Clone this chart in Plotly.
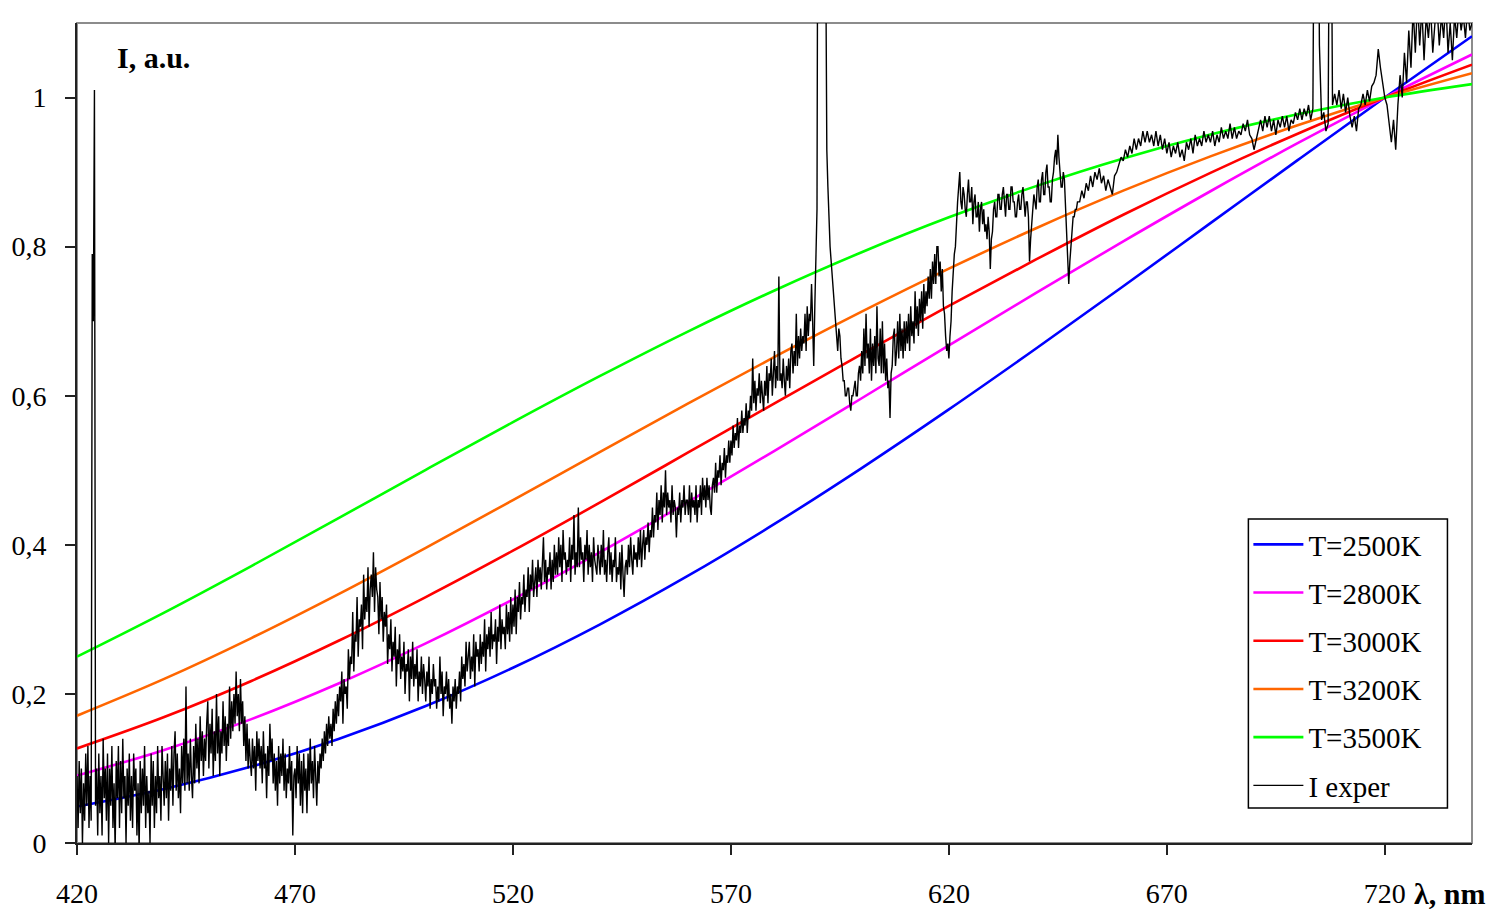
import plotly.graph_objects as go

# Wavelength grid of the blackbody curves, nm
wl_planck = [420, 440, 460, 480, 500, 520, 540, 560, 580, 600,
             620, 640, 660, 680, 700, 720, 740]

# Blackbody spectra normalised to 1 at 720 nm
T2500 = [0.0490, 0.0725, 0.1025, 0.1395, 0.1837, 0.2351, 0.2934, 0.3579, 0.4280,
         0.5029, 0.5816, 0.6633, 0.7469, 0.8315, 0.9161, 1.0000, 1.0823]
T2800 = [0.0904, 0.1249, 0.1662, 0.2140, 0.2677, 0.3267, 0.3901, 0.4569, 0.5261,
         0.5966, 0.6676, 0.7380, 0.8071, 0.8743, 0.9388, 1.0000, 1.0577]
T3000 = [0.1269, 0.1690, 0.2174, 0.2713, 0.3299, 0.3921, 0.4569, 0.5232, 0.5898,
         0.6558, 0.7204, 0.7828, 0.8428, 0.8990, 0.9515, 1.0000, 1.0442]
T3200 = [0.1708, 0.2201, 0.2749, 0.3339, 0.3960, 0.4600, 0.5247, 0.5890, 0.6520,
         0.7127, 0.7704, 0.8247, 0.8751, 0.9211, 0.9628, 1.0000, 1.0327]
T3500 = [0.2500, 0.3091, 0.3715, 0.4358, 0.5006, 0.5645, 0.6265, 0.6857, 0.7412,
         0.7925, 0.8393, 0.8812, 0.9183, 0.9503, 0.9775, 1.0000, 1.0180]

# Measured spectrum, part 1: 420.00 ... 649.75 nm every 0.25 nm (one row = 10 nm)
fine_start = 420.0
fine_step = 0.25
I_fine = [
    0.09, 0.02, 0.11, 0.04, 0.10, 0.00, 0.08, 0.03, 0.12, 0.05,
    0.13, 0.02, 0.09, 0.03, 0.79, 0.70, 1.01, 0.05, 0.10, 0.01,
    0.12, 0.04, 0.09, 0.01, 0.14, 0.06, 0.10, 0.03, 0.12, 0.00,
    0.10, 0.05, 0.13, 0.02, 0.08, -0.01, 0.11, 0.06, 0.13, 0.02,
    # 430
    0.11, 0.04, 0.14, 0.06, 0.09, 0.00, 0.10, 0.05, 0.12, 0.03,
    0.09, 0.02, 0.12, 0.07, 0.10, 0.01, 0.08, -0.01, 0.11, 0.04,
    0.10, 0.05, 0.13, 0.02, 0.09, 0.04, 0.07, 0.00, 0.12, 0.05,
    0.11, 0.02, 0.09, 0.04, 0.13, 0.06, 0.09, 0.03, 0.13, 0.07,
    # 440
    0.05, 0.11, 0.06, 0.12, 0.03, 0.10, 0.07, 0.13, 0.05, 0.12,
    0.15, 0.07, 0.12, 0.06, 0.10, 0.04, 0.13, 0.08, 0.14, 0.07,
    0.21, 0.08, 0.12, 0.07, 0.14, 0.09, 0.06, 0.13, 0.08, 0.16,
    0.10, 0.14, 0.08, 0.17, 0.11, 0.15, 0.09, 0.14, 0.11, 0.16,
    # 450
    0.19, 0.10, 0.16, 0.12, 0.18, 0.09, 0.15, 0.11, 0.20, 0.12,
    0.17, 0.09, 0.15, 0.12, 0.19, 0.13, 0.17, 0.11, 0.16, 0.13,
    0.21, 0.14, 0.19, 0.15, 0.20, 0.16, 0.23, 0.17, 0.20, 0.15,
    0.22, 0.16, 0.19, 0.13, 0.17, 0.11, 0.16, 0.10, 0.14, 0.11,
    # 460
    0.09, 0.14, 0.10, 0.13, 0.07, 0.15, 0.11, 0.14, 0.10, 0.13,
    0.08, 0.15, 0.10, 0.12, 0.06, 0.13, 0.09, 0.16, 0.11, 0.14,
    0.08, 0.12, 0.07, 0.11, 0.05, 0.13, 0.08, 0.12, 0.09, 0.14,
    0.07, 0.12, 0.06, 0.10, 0.08, 0.13, 0.07, 0.11, 0.01, 0.09,
    # 470
    0.10, 0.06, 0.13, 0.08, 0.12, 0.05, 0.11, 0.04, 0.12, 0.07,
    0.10, 0.04, 0.12, 0.07, 0.14, 0.08, 0.11, 0.06, 0.13, 0.09,
    0.05, 0.11, 0.08, 0.12, 0.10, 0.14, 0.11, 0.15, 0.12, 0.16,
    0.13, 0.17, 0.14, 0.16, 0.13, 0.18, 0.15, 0.19, 0.16, 0.20,
    # 480
    0.17, 0.21, 0.19, 0.23, 0.16, 0.22, 0.20, 0.21, 0.18, 0.26,
    0.22, 0.25, 0.24, 0.31, 0.23, 0.28, 0.27, 0.33, 0.25, 0.30,
    0.29, 0.32, 0.26, 0.36, 0.30, 0.33, 0.31, 0.37, 0.29, 0.34,
    0.36, 0.33, 0.39, 0.31, 0.37, 0.34, 0.33, 0.28, 0.35, 0.30,
    # 490
    0.33, 0.27, 0.31, 0.29, 0.32, 0.24, 0.28, 0.26, 0.30, 0.23,
    0.27, 0.25, 0.29, 0.21, 0.26, 0.24, 0.28, 0.22, 0.25, 0.23,
    0.27, 0.20, 0.24, 0.23, 0.26, 0.19, 0.25, 0.22, 0.27, 0.21,
    0.24, 0.22, 0.26, 0.19, 0.23, 0.21, 0.25, 0.20, 0.24, 0.22,
    # 500
    0.19, 0.23, 0.21, 0.25, 0.18, 0.22, 0.20, 0.24, 0.21, 0.22,
    0.18, 0.21, 0.19, 0.25, 0.20, 0.23, 0.17, 0.21, 0.20, 0.23,
    0.19, 0.22, 0.18, 0.20, 0.16, 0.21, 0.19, 0.22, 0.18, 0.21,
    0.20, 0.23, 0.19, 0.25, 0.22, 0.24, 0.21, 0.27, 0.23, 0.25,
    # 510
    0.27, 0.22, 0.25, 0.23, 0.28, 0.21, 0.27, 0.25, 0.26, 0.23,
    0.28, 0.24, 0.27, 0.25, 0.30, 0.23, 0.28, 0.26, 0.29, 0.25,
    0.31, 0.26, 0.28, 0.27, 0.30, 0.24, 0.29, 0.27, 0.32, 0.26,
    0.30, 0.28, 0.29, 0.26, 0.32, 0.28, 0.31, 0.27, 0.33, 0.28,
    # 520
    0.32, 0.29, 0.34, 0.28, 0.33, 0.31, 0.35, 0.30, 0.33, 0.32,
    0.36, 0.31, 0.34, 0.33, 0.37, 0.31, 0.36, 0.34, 0.38, 0.33,
    0.35, 0.37, 0.33, 0.38, 0.35, 0.37, 0.34, 0.39, 0.41, 0.35,
    0.38, 0.34, 0.37, 0.36, 0.39, 0.34, 0.38, 0.35, 0.40, 0.36,
    # 530
    0.39, 0.36, 0.41, 0.37, 0.40, 0.35, 0.42, 0.38, 0.39, 0.36,
    0.38, 0.37, 0.41, 0.35, 0.40, 0.38, 0.44, 0.36, 0.39, 0.37,
    0.45, 0.37, 0.41, 0.38, 0.39, 0.35, 0.40, 0.38, 0.42, 0.36,
    0.40, 0.37, 0.39, 0.35, 0.41, 0.38, 0.37, 0.36, 0.40, 0.37,
    # 540
    0.36, 0.40, 0.37, 0.42, 0.36, 0.38, 0.35, 0.39, 0.41, 0.36,
    0.39, 0.35, 0.38, 0.37, 0.41, 0.35, 0.37, 0.36, 0.39, 0.34,
    0.40, 0.36, 0.33, 0.37, 0.38, 0.36, 0.40, 0.37, 0.41, 0.38,
    0.36, 0.40, 0.38, 0.39, 0.37, 0.41, 0.38, 0.42, 0.37, 0.40,
    # 550
    0.42, 0.38, 0.41, 0.40, 0.43, 0.39, 0.42, 0.41, 0.45, 0.41,
    0.44, 0.43, 0.47, 0.42, 0.46, 0.44, 0.48, 0.43, 0.47, 0.45,
    0.50, 0.44, 0.47, 0.45, 0.46, 0.43, 0.48, 0.44, 0.46, 0.45,
    0.41, 0.45, 0.44, 0.47, 0.43, 0.46, 0.45, 0.48, 0.44, 0.46,
    # 560
    0.46, 0.44, 0.48, 0.43, 0.47, 0.45, 0.46, 0.44, 0.48, 0.43,
    0.46, 0.45, 0.48, 0.44, 0.49, 0.46, 0.48, 0.45, 0.49, 0.46,
    0.48, 0.45, 0.44, 0.48, 0.49, 0.47, 0.51, 0.47, 0.50, 0.49,
    0.52, 0.48, 0.51, 0.50, 0.53, 0.49, 0.52, 0.51, 0.54, 0.51,
    # 570
    0.54, 0.52, 0.56, 0.53, 0.55, 0.54, 0.57, 0.53, 0.56, 0.55,
    0.58, 0.55, 0.57, 0.56, 0.59, 0.55, 0.58, 0.57, 0.60, 0.58,
    0.65, 0.59, 0.62, 0.58, 0.61, 0.60, 0.63, 0.59, 0.62, 0.60,
    0.58, 0.62, 0.60, 0.64, 0.59, 0.63, 0.62, 0.65, 0.60, 0.63,
    # 580
    0.66, 0.61, 0.64, 0.62, 0.76, 0.62, 0.63, 0.61, 0.65, 0.62,
    0.60, 0.64, 0.62, 0.65, 0.61, 0.66, 0.67, 0.63, 0.66, 0.64,
    0.71, 0.64, 0.68, 0.65, 0.69, 0.66, 0.68, 0.67, 0.71, 0.66,
    0.72, 0.68, 0.71, 0.70, 0.75, 0.70, 0.64, 0.72, 0.78, 0.85,
    # 590 (sodium doublet runs off scale)
    1.50, 1.60, 1.60, 1.60, 1.60, 1.60, 1.50, 1.20, 0.93, 0.88,
    0.83, 0.80, 0.78, 0.76, 0.73, 0.71, 0.70, 0.68, 0.66, 0.69,
    0.68, 0.65, 0.64, 0.62, 0.62, 0.60, 0.60, 0.61, 0.61, 0.59,
    0.58, 0.60, 0.60, 0.61, 0.62, 0.60, 0.60, 0.63, 0.64, 0.62,
    # 600
    0.66, 0.63, 0.69, 0.64, 0.71, 0.65, 0.67, 0.63, 0.69, 0.62,
    0.67, 0.64, 0.68, 0.63, 0.72, 0.65, 0.64, 0.69, 0.63, 0.70,
    0.63, 0.67, 0.62, 0.65, 0.61, 0.62, 0.57, 0.63, 0.64, 0.68,
    0.69, 0.64, 0.66, 0.70, 0.65, 0.71, 0.66, 0.69, 0.65, 0.70,
    # 610
    0.66, 0.70, 0.67, 0.71, 0.66, 0.72, 0.68, 0.70, 0.67, 0.74,
    0.69, 0.72, 0.68, 0.73, 0.70, 0.74, 0.69, 0.75, 0.71, 0.74,
    0.72, 0.76, 0.73, 0.77, 0.73, 0.78, 0.75, 0.79, 0.75, 0.80,
    0.80, 0.76, 0.78, 0.74, 0.77, 0.72, 0.71, 0.68, 0.66, 0.67,
    # 620
    0.65, 0.68, 0.70, 0.74, 0.77, 0.79, 0.80, 0.84, 0.86, 0.88,
    0.90, 0.86, 0.85, 0.88, 0.87, 0.85, 0.84, 0.87, 0.89, 0.86,
    0.86, 0.88, 0.83, 0.86, 0.87, 0.84, 0.84, 0.86, 0.82, 0.85,
    0.86, 0.83, 0.85, 0.82, 0.83, 0.81, 0.84, 0.82, 0.77, 0.81,
    # 630
    0.82, 0.85, 0.86, 0.84, 0.84, 0.87, 0.87, 0.85, 0.85, 0.87,
    0.88, 0.86, 0.84, 0.87, 0.87, 0.85, 0.85, 0.88, 0.88, 0.86,
    0.86, 0.84, 0.84, 0.86, 0.87, 0.85, 0.85, 0.87, 0.88, 0.86,
    0.84, 0.86, 0.86, 0.84, 0.78, 0.81, 0.83, 0.85, 0.87, 0.86,
    # 640
    0.85, 0.88, 0.89, 0.86, 0.86, 0.89, 0.90, 0.87, 0.87, 0.90,
    0.91, 0.88, 0.88, 0.86, 0.86, 0.89, 0.90, 0.92, 0.93, 0.91,
    0.95, 0.92, 0.90, 0.88, 0.88, 0.90, 0.89, 0.86, 0.82, 0.78,
    0.75, 0.78, 0.80, 0.82, 0.84, 0.84, 0.85, 0.85, 0.86, 0.86,
]

# Measured spectrum, part 2: 650.0 ... 740.0 nm every 0.5 nm (one row = 10 nm)
coarse_start = 650.0
coarse_step = 0.5
I_coarse = [
    0.86, 0.875, 0.865, 0.885, 0.875, 0.895, 0.88, 0.90, 0.89, 0.905, 0.885, 0.895, 0.875, 0.89, 0.88, 0.87, 0.895, 0.90, 0.91, 0.92,
    0.915, 0.93, 0.92, 0.935, 0.925, 0.945, 0.93, 0.945, 0.935, 0.955, 0.94, 0.955, 0.94, 0.95, 0.935, 0.955, 0.935, 0.95, 0.93, 0.945,
    0.925, 0.94, 0.92, 0.935, 0.925, 0.94, 0.92, 0.93, 0.915, 0.94, 0.93, 0.945, 0.925, 0.95, 0.935, 0.945, 0.935, 0.955, 0.94, 0.95,
    0.94, 0.955, 0.935, 0.95, 0.94, 0.96, 0.945, 0.955, 0.945, 0.965, 0.945, 0.96, 0.945, 0.955, 0.95, 0.965, 0.955, 0.97, 0.95, 0.945,
    0.93, 0.945, 0.955, 0.97, 0.955, 0.975, 0.96, 0.975, 0.955, 0.97, 0.95, 0.97, 0.96, 0.975, 0.96, 0.975, 0.955, 0.97, 0.965, 0.98,
    0.97, 0.985, 0.97, 0.985, 0.975, 0.99, 0.97, 0.985, 1.50, 1.50, 1.07, 0.97, 0.98, 0.955, 0.965, 1.50, 0.99, 1.005, 0.99, 1.01,
    0.985, 1.005, 0.98, 1.00, 0.975, 0.96, 0.975, 0.955, 0.985, 0.99, 1.005, 0.99, 1.01, 0.995, 1.015, 1.02, 1.03, 1.065, 1.04, 1.02,
    1.00, 0.99, 0.96, 0.94, 0.97, 0.93, 0.99, 1.03, 1.00, 1.06, 1.02, 1.09, 1.04, 1.12, 1.06, 1.13, 1.07, 1.12, 1.05, 1.11,
    1.08, 1.12, 1.06, 1.10, 1.12, 1.07, 1.11, 1.08, 1.13, 1.06, 1.10, 1.05, 1.11, 1.08, 1.12, 1.09, 1.11, 1.08, 1.12, 1.09,
    1.10,
]

wl_exper = ([fine_start + fine_step * i for i in range(len(I_fine))]
            + [coarse_start + coarse_step * j for j in range(len(I_coarse))])
I_exper = I_fine + I_coarse

x_ticks = [420, 470, 520, 570, 620, 670, 720]
y_ticks = [0, 0.2, 0.4, 0.6, 0.8, 1.0]

SERIF = "Liberation Serif, Times New Roman, serif"

curves = [
    ("T=2500K", T2500, "#0000FF"),
    ("T=2800K", T2800, "#FF00FF"),
    ("T=3000K", T3000, "#FF0000"),
    ("T=3200K", T3200, "#FF6600"),
    ("T=3500K", T3500, "#00FF00"),
]

fig = go.Figure()
for name, vals, color in curves:
    fig.add_trace(go.Scatter(
        x=wl_planck, y=vals, name=name, mode="lines", legendgroup=name,
        line=dict(color=color, width=2.6, shape="spline", smoothing=1.0),
    ))
fig.add_trace(go.Scatter(
    x=wl_exper, y=I_exper, name="I exper", mode="lines", legendgroup="exp",
    line=dict(color="#000000", width=1.4),
))

fig.update_layout(
    width=1499, height=910,
    margin=dict(l=77, r=27, t=23, b=67, autoexpand=False),
    paper_bgcolor="white", plot_bgcolor="white",
    separators=", ",
    font=dict(family=SERIF, size=28, color="#000000"),
    showlegend=True,
    legend=dict(
        x=0.8397, y=0.3951, xanchor="left", yanchor="top",
        bgcolor="rgba(0,0,0,0)", borderwidth=0,
        font=dict(family=SERIF, size=29, color="#000000"),
        itemwidth=50, tracegroupgap=7.5, traceorder="grouped",
    ),
    xaxis=dict(
        range=[420, 740], tickvals=x_ticks, ticktext=[str(v) for v in x_ticks],
        ticks="outside", ticklen=10, tickwidth=1.5, tickcolor="#222222",
        showline=True, linecolor="#222222", linewidth=2,
        showgrid=False, zeroline=False, ticklabelstandoff=14, automargin=False,
        tickfont=dict(family=SERIF, size=28),
    ),
    yaxis=dict(
        range=[0, 1.1], tickvals=y_ticks,
        ticks="outside", ticklen=10, tickwidth=1.5, tickcolor="#222222",
        showline=True, linecolor="#222222", linewidth=2,
        showgrid=False, zeroline=False, ticklabelstandoff=13, automargin=False,
        tickfont=dict(family=SERIF, size=28),
    ),
    shapes=[
        # plot frame (top and right edges in grey)
        dict(type="rect", xref="paper", yref="paper", x0=0, y0=0, x1=1, y1=1,
             line=dict(color="#8c8c8c", width=2), layer="below"),
        # legend box
        dict(type="rect", xref="paper", yref="paper",
             x0=0.8397, y0=0.0427, x1=0.9824, y1=0.3951,
             line=dict(color="#000000", width=1.5), fillcolor="white", layer="above"),
    ],
    annotations=[
        dict(text="<b>I, a.u.</b>", xref="paper", yref="paper", x=0.027, y=0.9585,
             xanchor="left", yanchor="middle", showarrow=False,
             font=dict(family=SERIF, size=30)),
        dict(text="<b>λ, nm</b>", xref="paper", yref="paper", x=0.957, y=-0.061,
             xanchor="left", yanchor="middle", showarrow=False,
             font=dict(family=SERIF, size=30)),
    ],
)

fig.write_html("out.html")
